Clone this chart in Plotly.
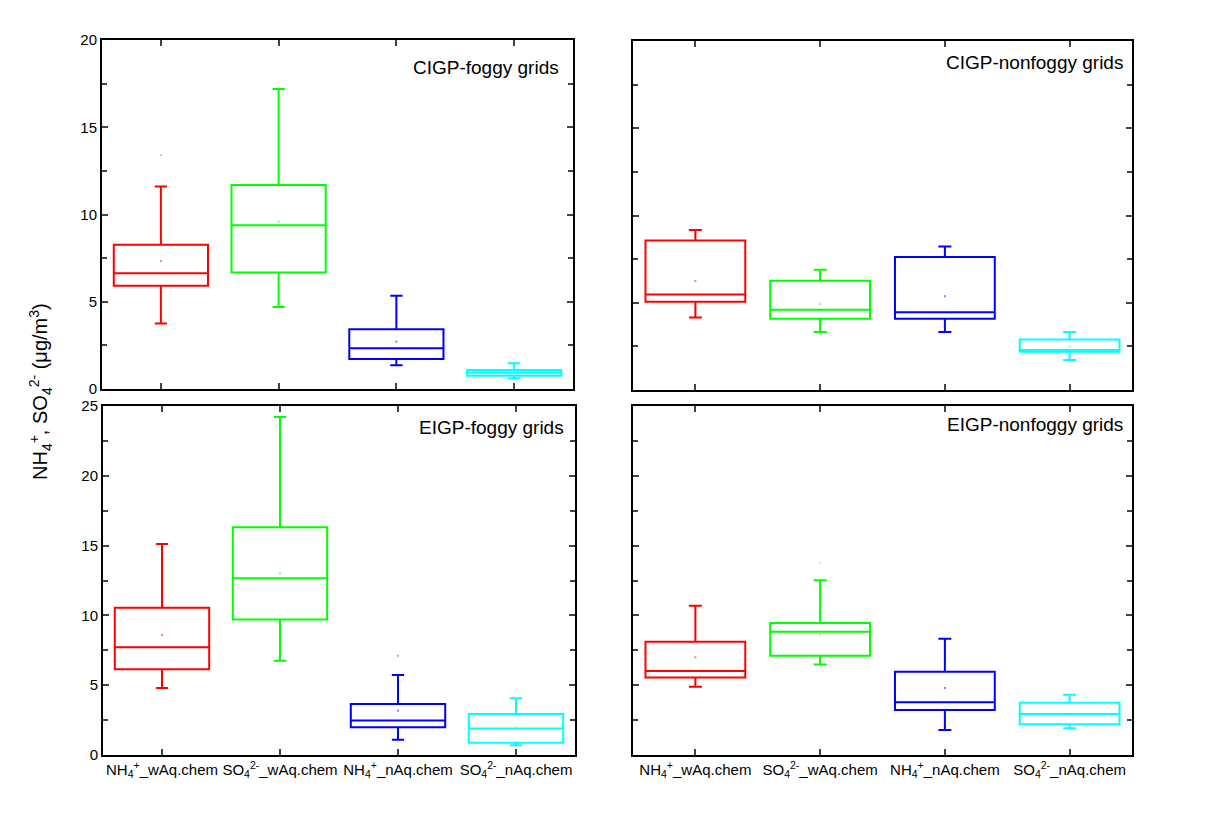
import plotly.graph_objects as go

categories = ["NH<sub>4</sub><sup>+</sup>_wAq.chem", "SO<sub>4</sub><sup>2-</sup>_wAq.chem",
              "NH<sub>4</sub><sup>+</sup>_nAq.chem", "SO<sub>4</sub><sup>2-</sup>_nAq.chem"]
colors = ["#FF0000", "#00FF00", "#0000FF", "#00FFFF"]
panel_titles = ["CIGP-foggy grids", "CIGP-nonfoggy grids", "EIGP-foggy grids", "EIGP-nonfoggy grids"]

# per panel: lists over the 4 categories
cigp_fog_low = [3.76, 4.70, 1.36, 0.61]
cigp_fog_q1 = [5.92, 6.68, 1.72, 0.76]
cigp_fog_med = [6.63, 9.38, 2.33, 0.93]
cigp_fog_q3 = [8.27, 11.69, 3.42, 1.09]
cigp_fog_high = [11.6, 17.19, 5.35, 1.47]
cigp_fog_mean = [7.33, 9.6, 2.71, 0.95]

cigp_non_low = [4.16, 3.32, 3.32, 1.72]
cigp_non_q1 = [5.06, 4.09, 4.09, 2.19]
cigp_non_med = [5.47, 4.60, 4.45, 2.29]
cigp_non_q3 = [8.57, 6.26, 7.62, 2.90]
cigp_non_high = [9.17, 6.89, 8.23, 3.32]
cigp_non_mean = [6.25, 4.93, 5.37, 2.5]

eigp_fog_low = [4.80, 6.76, 1.10, 0.69]
eigp_fog_q1 = [6.14, 9.70, 1.98, 0.88]
eigp_fog_med = [7.71, 12.66, 2.48, 1.89]
eigp_fog_q3 = [10.55, 16.31, 3.65, 2.94]
eigp_fog_high = [15.11, 24.21, 5.73, 4.06]
eigp_fog_mean = [8.6, 13.0, 3.18, 1.96]

eigp_non_low = [4.89, 6.49, 1.79, 1.91]
eigp_non_q1 = [5.56, 7.11, 3.22, 2.20]
eigp_non_med = [6.02, 8.83, 3.77, 2.94]
eigp_non_q3 = [8.12, 9.46, 5.97, 3.75]
eigp_non_high = [10.70, 12.51, 8.33, 4.32]
eigp_non_mean = [7.0, 8.64, 4.8, 2.95]

# faint max markers: (panel, category, value)
extra_points = [(0, 0, 13.4), (2, 2, 7.11), (3, 1, 13.78)]

panels = [
    (cigp_fog_low, cigp_fog_q1, cigp_fog_med, cigp_fog_q3, cigp_fog_high, cigp_fog_mean),
    (cigp_non_low, cigp_non_q1, cigp_non_med, cigp_non_q3, cigp_non_high, cigp_non_mean),
    (eigp_fog_low, eigp_fog_q1, eigp_fog_med, eigp_fog_q3, eigp_fog_high, eigp_fog_mean),
    (eigp_non_low, eigp_non_q1, eigp_non_med, eigp_non_q3, eigp_non_high, eigp_non_mean),
]

fig = go.Figure()
W, H = 1206, 814
OFF = 8  # page body margin


def fx(px):
    return (px - OFF) / W


def fy(px):
    return 1 - (px - OFF) / H


xdoms = [[fx(102), fx(573)], [fx(633), fx(1132)], [fx(103), fx(575)], [fx(633), fx(1132)]]
ydoms = [[fy(389), fy(40)], [fy(390), fy(41)], [fy(755), fy(406)], [fy(755), fy(406)]]
ymax = [20, 20, 25, 25]

for p, (lo, q1, med, q3, hi, mn) in enumerate(panels):
    ax = "" if p == 0 else str(p + 1)
    for i in range(4):
        fig.add_trace(go.Box(
            x=[i], q1=[q1[i]], median=[med[i]], q3=[q3[i]],
            lowerfence=[lo[i]], upperfence=[hi[i]],
            width=0.8, whiskerwidth=0.13, boxpoints=False,
            line=dict(color=colors[i], width=2), fillcolor="rgba(0,0,0,0)",
            xaxis="x" + ax, yaxis="y" + ax, showlegend=False, hoverinfo="skip"))
        fig.add_trace(go.Scatter(
            x=[i], y=[mn[i]], mode="markers",
            marker=dict(symbol="square", size=2, color=colors[i], opacity=0.5),
            xaxis="x" + ax, yaxis="y" + ax, showlegend=False, hoverinfo="skip"))
for (p, i, v) in extra_points:
    ax = "" if p == 0 else str(p + 1)
    fig.add_trace(go.Scatter(
        x=[i], y=[v], mode="markers",
        marker=dict(symbol="square", size=2, color=colors[i], opacity=0.35),
        xaxis="x" + ax, yaxis="y" + ax, showlegend=False, hoverinfo="skip"))

font = "Liberation Sans, Arial, sans-serif"
layout = {}
for p in range(4):
    ax = "" if p == 0 else str(p + 1)
    layout["xaxis" + ax] = dict(
        domain=xdoms[p], range=[-0.5, 3.5], tickvals=[0, 1, 2, 3],
        ticktext=categories if p >= 2 else ["", "", "", ""],
        showticklabels=p >= 2, ticks="inside", ticklen=6, tickwidth=1.5,
        showline=True, linewidth=2, linecolor="black", mirror="ticks",
        showgrid=False, zeroline=False, anchor="y" + ax, automargin=False,
        tickfont=dict(family=font, size=15, color="black"))
    layout["yaxis" + ax] = dict(
        domain=ydoms[p], range=[0, ymax[p]], tickvals=list(range(0, ymax[p] + 1, 5)),
        showticklabels=p in (0, 2), ticks="inside", ticklen=6, tickwidth=1.5,
        minor=dict(dtick=2.5, ticks="inside", ticklen=5, tickwidth=1.5, showgrid=False),
        showline=True, linewidth=2, linecolor="black", mirror="ticks",
        showgrid=False, zeroline=False, anchor="x" + ax, automargin=False,
        tickfont=dict(family=font, size=15, color="black"))

title_pos = [(0.975, 0.92), (0.985, 0.937), (0.98, 0.937), (0.985, 0.948)]
annotations = []
for p in range(4):
    ax = "" if p == 0 else str(p + 1)
    annotations.append(dict(
        text=panel_titles[p], xref="x" + ax + " domain", yref="y" + ax + " domain",
        x=title_pos[p][0], y=title_pos[p][1], xanchor="right", yanchor="middle",
        showarrow=False, font=dict(family=font, size=19, color="black")))
annotations.append(dict(
    text="NH<sub>4</sub><sup>+</sup>, SO<sub>4</sub><sup>2-</sup> (μg/m<sup>3</sup>)",
    xref="paper", yref="paper", x=fx(40), y=fy(392), textangle=-90,
    xanchor="center", yanchor="middle", showarrow=False,
    font=dict(family=font, size=20, color="black")))

fig.update_layout(
    width=W, height=H, margin=dict(l=0, r=0, t=0, b=0, autoexpand=False),
    paper_bgcolor="white", plot_bgcolor="white",
    annotations=annotations, **layout)

fig.write_html("out.html")
